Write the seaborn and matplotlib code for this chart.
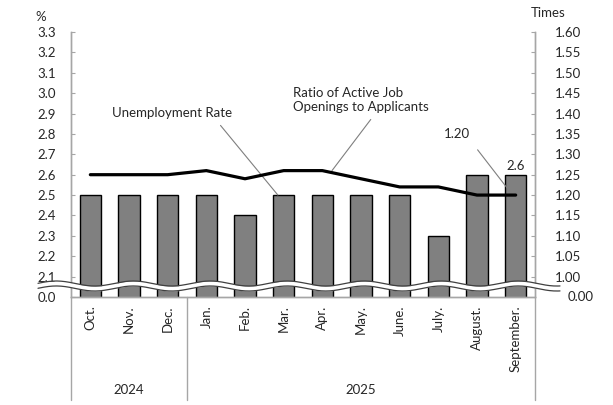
import matplotlib
matplotlib.use("Agg")
import matplotlib.pyplot as plt
import matplotlib.transforms as mtransforms
import numpy as np
import pandas as pd
import seaborn as sns

# 데이터
months = ["Oct.", "Nov.", "Dec.", "Jan.", "Feb.", "Mar.", "Apr.", "May.",
          "June.", "July.", "August.", "September."]
years = ["2024", "2025"]
year_centers = [1.0, 7.0]
unemployment = [2.5, 2.5, 2.5, 2.5, 2.4, 2.5, 2.5, 2.5, 2.5, 2.3, 2.6, 2.6]
ratio = [1.25, 1.25, 1.25, 1.26, 1.24, 1.26, 1.26, 1.24, 1.22, 1.22, 1.20, 1.20]
left_ticks = [2.0, 2.1, 2.2, 2.3, 2.4, 2.5, 2.6, 2.7, 2.8, 2.9, 3.0, 3.1, 3.2, 3.3]
right_ticks = [1.00, 1.05, 1.10, 1.15, 1.20, 1.25, 1.30, 1.35, 1.40, 1.45,
               1.50, 1.55, 1.60]

df = pd.DataFrame({"month": months, "pos": np.arange(len(months)),
                   "rate": unemployment, "ratio": ratio})

sns.set_style("white")
plt.rcParams["font.family"] = ["Lato", "DejaVu Sans"]
txt_color = "#262626"
spine_color = "#a6a6a6"

fig = plt.figure(figsize=(6.13, 4.05), dpi=100)
ax = fig.add_axes([71 / 613, 1 - 297 / 405, 464 / 613, 265 / 405])

sns.barplot(data=df, x="pos", y="rate", ax=ax, color="#808080",
            edgecolor="black", linewidth=1, width=0.55, saturation=1)
ax.set_xlim(-0.5, 11.5)
ax.set_ylim(2.0, 3.3)
ax.set_yticks(left_ticks)
ax.set_yticklabels(["0.0"] + [f"{v:.1f}" for v in left_ticks[1:]])
ax.set_xticks(np.arange(len(months)))
ax.set_xticklabels(months, rotation=90, va="top", ha="center")
ax.set_xlabel("")
ax.set_ylabel("")

# 오른쪽 축 (배수)
ax2 = ax.twinx()
sns.lineplot(data=df, x="pos", y="ratio", ax=ax2, color="black", linewidth=2.3)
ax2.set_ylim(0.95, 1.60)
ax2.set_yticks(right_ticks)
ax2.set_yticklabels([f"{v:.2f}" for v in right_ticks])
ax2.set_ylabel("")
ax2.set_xlim(-0.5, 11.5)

for a in (ax, ax2):
    for s in a.spines.values():
        s.set_color(spine_color)
        s.set_linewidth(1)
    a.spines["top"].set_visible(False)
ax.tick_params(axis="y", direction="in", length=3, color=spine_color,
               labelsize=9.5, labelcolor=txt_color, pad=11)
ax.tick_params(axis="x", length=0, labelsize=9.5, labelcolor=txt_color, pad=6)
ax2.tick_params(axis="y", direction="in", length=3, color=spine_color,
                labelsize=9.5, labelcolor=txt_color, pad=14)
ax2.yaxis.get_major_ticks()[0]

# 0.00 (오른쪽 아래)
ax2.text(1 + 33 / 464, 0, "0.00", transform=ax2.transAxes, ha="left",
         va="center", fontsize=9.5, color=txt_color)

# 연도 구분선
trans = mtransforms.blended_transform_factory(ax.transData, ax.transAxes)
for xv in [-0.5, 2.5, 11.5]:
    ax.plot([xv, xv], [0, -0.389], transform=trans, color=spine_color,
            lw=1, clip_on=False)
for yr, xc in zip(years, year_centers):
    ax.text(xc, -0.35, yr, transform=trans, ha="center", va="center",
            fontsize=9.5, color=txt_color)

# 축 단위
fig.text(41 / 613, 1 - 17 / 405, "%", ha="center", va="center",
         fontsize=9.5, color=txt_color)
fig.text(548 / 613, 1 - 13 / 405, "Times", ha="center", va="center",
         fontsize=9.5, color=txt_color)

# 주석
ax.annotate("Unemployment Rate", xy=(4.85, 2.5), xytext=(2.11, 2.903),
            ha="center", va="center", fontsize=9.5, color=txt_color,
            arrowprops=dict(arrowstyle="-", color="#7f7f7f", lw=0.8,
                            relpos=(0.86, 0), shrinkA=3, shrinkB=0))
ax.annotate("Ratio of Active Job\nOpenings to Applicants", xy=(6.25, 2.62),
            xytext=(5.24, 2.967), ha="left", va="center", fontsize=9.5,
            color=txt_color, multialignment="left",
            arrowprops=dict(arrowstyle="-", color="#7f7f7f", lw=0.8,
                            relpos=(0.61, 0), shrinkA=3, shrinkB=0))
ax.annotate(f"{ratio[-1]:.2f}", xy=(10.9, 2.505), xytext=(9.48, 2.80),
            ha="center", va="center", fontsize=9.5, color=txt_color,
            arrowprops=dict(arrowstyle="-", color="#7f7f7f", lw=0.8,
                            relpos=(1, 0), shrinkA=6, shrinkB=0))
ax.text(11, 2.612, f"{unemployment[-1]}", ha="center", va="bottom",
        fontsize=9.5, color=txt_color)

# 물결 모양 축 생략 표시
px = np.linspace(38, 560, 500)
xa = (px - 71) / 464
yc = 0.0415 + 0.0095 * np.sin(2 * np.pi * (px - 345) / 77)
gap = 0.0094
ax2.fill_between(xa, yc - gap, yc + gap, transform=ax2.transAxes,
                 color="white", clip_on=False, zorder=10, lw=0)
ax2.plot(xa, yc + gap, transform=ax2.transAxes, color="#404040", lw=0.9,
         clip_on=False, zorder=11)
ax2.plot(xa, yc - gap, transform=ax2.transAxes, color="#404040", lw=0.9,
         clip_on=False, zorder=11)

fig.savefig("out.png", dpi=100)
